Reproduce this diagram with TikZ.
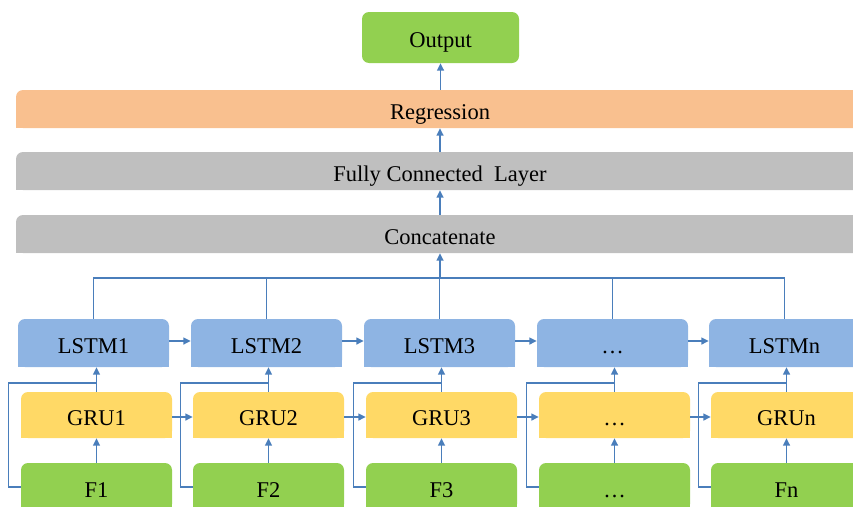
\documentclass[tikz,border=0pt]{standalone}
\usepackage{fontspec}
\setmainfont{Liberation Serif}
\usetikzlibrary{arrows.meta,backgrounds}
\definecolor{fgreen}{HTML}{92D050}
\definecolor{lblue}{HTML}{8EB4E3}
\definecolor{gyellow}{HTML}{FFD966}
\definecolor{rorange}{HTML}{F9C08F}
\definecolor{bgray}{HTML}{BFBFBF}
\definecolor{wire}{HTML}{4A7EBB}
\tikzset{
  box/.style={inner sep=0pt, rounded corners=7pt, minimum width=151pt,
    text height=20pt, text depth=0pt,
    font=\fontsize{22.5}{27}\selectfont},
  lstm/.style={box, fill=lblue, minimum height=48pt},
  gru/.style={box, fill=gyellow, minimum height=46pt},
  feat/.style={box, fill=fgreen, minimum height=48pt},
  bar/.style={box, minimum width=848pt, minimum height=38pt},
  link/.style={draw=wire, line width=1.5pt},
  arr/.style={link, -{Triangle[length=7.5pt,width=7pt]}}
}
\begin{document}
\begin{tikzpicture}[x=1pt,y=-1pt]
\useasboundingbox (0,0) rectangle (853,506);
\clip (0,0) rectangle (853,506);

% head of the network
\node[box, fill=fgreen, minimum width=157pt, minimum height=51pt] (out) at (440.5,37.5) {Output};
\node[bar, fill=rorange] (reg) at (440,109) {Regression};
\node[bar, fill=bgray] (fc) at (440,171) {Fully Connected\ \ Layer};
\node[bar, fill=bgray] (cat) at (440,234) {Concatenate};

% recurrent columns
\foreach \i/\lx/\gx/\lt/\gt/\ft in {
  1/93.5/96.5/LSTM1/GRU1/F1,
  2/266.5/268.5/LSTM2/GRU2/F2,
  3/439.5/441.5/LSTM3/GRU3/F3,
  4/612.5/614.5/…/…/…,
  5/784.5/786.5/LSTMn/GRUn/Fn}{
  \node[lstm] (L\i) at (\lx,343) {\lt};
  \node[gru] (G\i) at (\gx,415) {\gt};
  \node[feat] (F\i) at (\gx,487) {\ft};
}

% square off the lower corners of the blocks
\begin{pgfonlayer}{background}
  \clip (0,0) rectangle (853,506);
  \foreach \n/\c in {reg/rorange, fc/bgray, cat/bgray}
    \fill[\c] (\n.north east) rectangle (\n.south);
  \foreach \n/\c in {reg/rorange, fc/bgray, cat/bgray}
    \fill[\c] (\n.west) rectangle (\n.south east);
  \foreach \i in {1,...,5}{
    \fill[lblue] (L\i.west) rectangle (L\i.south east);
    \fill[gyellow] (G\i.west) rectangle (G\i.south east);
    \fill[fgreen] (F\i.west) rectangle (F\i.south east);
  }
\end{pgfonlayer}

% top of the network
\draw[arr] (reg.north -| out.south) -- (out.south);
\draw[arr] (fc.north -| reg.south) -- (reg.south);
\draw[arr] (cat.north -| fc.south) -- (fc.south);

% collecting bus from the LSTM blocks
\coordinate (busy) at (0,278);
\draw[link] (L1.north) |- (L5.north |- busy) -- (L5.north);
\foreach \i in {2,3,4}
  \draw[link] (L\i.north) -- (L\i.north |- busy);
\draw[arr] (cat.south |- busy) -- (cat.south);

% per-column connections
\foreach \i in {1,...,5}{
  \draw[arr] (F\i.north) -- (G\i.south);
  \draw[arr] (G\i.north) -- (G\i.north |- L\i.south);
  \draw[link] (F\i.west) -- ++(-12.5,0) |- ([yshift=9pt]G\i.north);
}
\foreach \i/\j in {1/2,2/3,3/4,4/5}{
  \draw[arr] ([yshift=2pt]L\i.east) -- ([yshift=2pt]L\j.west);
  \draw[arr] ([yshift=-2pt]G\i.east) -- ([yshift=-2pt]G\j.west);
}
\end{tikzpicture}
\end{document}
